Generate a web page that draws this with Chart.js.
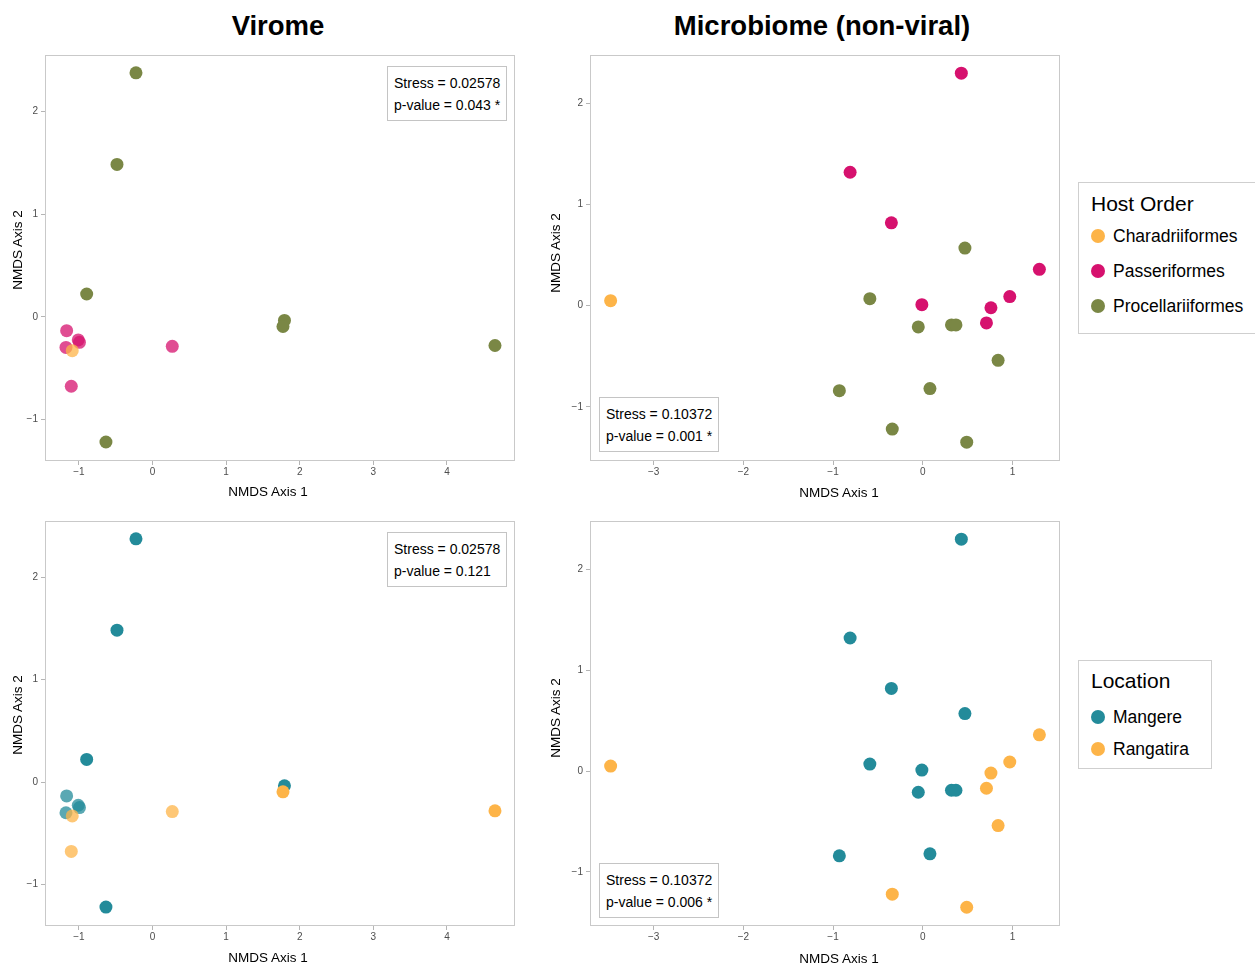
<!DOCTYPE html>
<html>
<head>
<meta charset="utf-8">
<script src="https://cdn.jsdelivr.net/npm/chart.js"></script>
<style>
  body { margin: 0; background: #fff; font-family: "Liberation Sans", Arial, sans-serif; }
  #page { position: relative; width: 1255px; height: 966px; overflow: hidden; }
  canvas { position: absolute; }
  .title { position: absolute; top: 10px; font-weight: bold; font-size: 27.5px; color: #000; transform: translateX(-50%); white-space: nowrap; }
  .xlab { position: absolute; font-size: 13.5px; color: #000; transform: translateX(-50%); white-space: nowrap; }
  .ylab { position: absolute; font-size: 13.5px; color: #000; transform: translate(-50%, -50%) rotate(-90deg); white-space: nowrap; }
  .stats { position: absolute; border: 1px solid #c4c4c4; background: #fff; font-size: 14px; line-height: 22px; padding: 5px 6px 4px 6px; white-space: nowrap; color: #000; }
  .legend { position: absolute; border: 1px solid #cfcfcf; background: #fff; }
  .legend .lt { position: absolute; font-size: 21px; white-space: nowrap; }
  .legend .li { position: absolute; font-size: 17.5px; white-space: nowrap; }
  .legend .dot { position: absolute; width: 14px; height: 14px; border-radius: 50%; }
</style>
</head>
<body>
<div id="page"></div>
<script>
// NMDS coordinates
const viromeX = [-0.224, -0.482, -0.894, 1.793, 1.773, 4.653, -0.632, -1.166, -1.175, -1.008, -0.992, 0.269, -1.103, -1.090];
const viromeY = [2.376, 1.484, 0.222, -0.036, -0.095, -0.280, -1.220, -0.135, -0.299, -0.226, -0.249, -0.288, -0.677, -0.330];
const viromeHost = ['Procellariiformes', 'Procellariiformes', 'Procellariiformes', 'Procellariiformes', 'Procellariiformes',
  'Procellariiformes', 'Procellariiformes', 'Passeriformes', 'Passeriformes', 'Passeriformes', 'Passeriformes',
  'Passeriformes', 'Passeriformes', 'Charadriiformes'];
const viromeLocation = ['Mangere', 'Mangere', 'Mangere', 'Mangere', 'Rangatira', 'Rangatira', 'Mangere',
  'Mangere', 'Mangere', 'Mangere', 'Mangere', 'Rangatira', 'Rangatira', 'Rangatira'];

const microX = [0.43, -0.81, -0.35, -0.01, 1.30, 0.97, 0.76, 0.71, -3.48, 0.47, -0.59, -0.05, 0.32, 0.37, 0.84, -0.93, 0.08, -0.34, 0.49];
const microY = [2.30, 1.32, 0.82, 0.01, 0.36, 0.09, -0.02, -0.17, 0.05, 0.57, 0.07, -0.21, -0.19, -0.19, -0.54, -0.84, -0.82, -1.22, -1.35];
const microHost = ['Passeriformes', 'Passeriformes', 'Passeriformes', 'Passeriformes', 'Passeriformes', 'Passeriformes',
  'Passeriformes', 'Passeriformes', 'Charadriiformes', 'Procellariiformes', 'Procellariiformes', 'Procellariiformes',
  'Procellariiformes', 'Procellariiformes', 'Procellariiformes', 'Procellariiformes', 'Procellariiformes',
  'Procellariiformes', 'Procellariiformes'];
const microLocation = ['Mangere', 'Mangere', 'Mangere', 'Mangere', 'Rangatira', 'Rangatira', 'Rangatira', 'Rangatira',
  'Rangatira', 'Mangere', 'Mangere', 'Mangere', 'Mangere', 'Mangere', 'Rangatira', 'Mangere', 'Mangere',
  'Rangatira', 'Rangatira'];

// axis ticks
const viromeXTicks = [-1, 0, 1, 2, 3, 4];
const viromeYTicks = [-1, 0, 1, 2];
const microXTicks = [-3, -2, -1, 0, 1];
const microYTicks = [-1, 0, 1, 2];

// legend entries
const hostOrders = ['Charadriiformes', 'Passeriformes', 'Procellariiformes'];
const locations = ['Mangere', 'Rangatira'];

// stats text per panel
const viromeHostStats = ['Stress = 0.02578', 'p-value = 0.043 *'];
const viromeLocStats = ['Stress = 0.02578', 'p-value = 0.121'];
const microHostStats = ['Stress = 0.10372', 'p-value = 0.001 *'];
const microLocStats = ['Stress = 0.10372', 'p-value = 0.006 *'];

const colors = {
  Charadriiformes: [253, 180, 72],
  Passeriformes: [214, 17, 110],
  Procellariiformes: [122, 135, 69],
  Mangere: [35, 139, 154],
  Rangatira: [253, 180, 72]
};
const rgba = (c, a) => `rgba(${c[0]},${c[1]},${c[2]},${a})`;

const page = document.getElementById('page');

function addDiv(cls, style, html) {
  const d = document.createElement('div');
  d.className = cls;
  Object.assign(d.style, style);
  if (html !== undefined) d.innerHTML = html;
  page.appendChild(d);
  return d;
}

// full frame round the plot area
const framePlugin = {
  id: 'frame',
  beforeDatasetsDraw(chart) {
    const a = chart.chartArea, ctx = chart.ctx;
    ctx.save();
    ctx.strokeStyle = '#c9c9c9';
    ctx.lineWidth = 1;
    ctx.strokeRect(Math.round(a.left) + 0.5, Math.round(a.top) + 0.5,
      Math.round(a.right - a.left) - 1, Math.round(a.bottom - a.top) - 1);
    ctx.restore();
  }
};

const fmt = v => v < 0 ? '\u2212' + Math.abs(v) : String(v);

function axis(range, ticks, fitKey, fitVal, pad) {
  return {
    type: 'linear',
    min: range[0], max: range[1],
    afterBuildTicks: s => { s.ticks = ticks.map(v => ({ value: v })); },
    afterFit: s => { s[fitKey] = fitVal; },
    border: { display: false },
    grid: { drawOnChartArea: false, drawTicks: true, tickLength: 4, color: '#b5b5b5' },
    ticks: { callback: fmt, color: '#4d4d4d', font: { size: 10, family: 'Liberation Sans' }, padding: pad, maxRotation: 0, autoSkip: false }
  };
}

function panel(box, xs, ys, groups, alphaFn, xRange, yRange, xTicks, yTicks) {
  const cv = document.createElement('canvas');
  cv.width = box.w + 55;
  cv.height = box.h + 40;
  cv.style.left = (box.l - 45) + 'px';
  cv.style.top = (box.t - 10) + 'px';
  page.appendChild(cv);
  const pts = xs.map((x, i) => ({ x: x, y: ys[i] }));
  new Chart(cv.getContext('2d'), {
    type: 'scatter',
    data: {
      datasets: [{
        data: pts,
        backgroundColor: groups.map((g, i) => rgba(colors[g], alphaFn(i))),
        borderWidth: 0,
        pointRadius: 6.5,
        pointHoverRadius: 6.5
      }]
    },
    options: {
      responsive: false,
      animation: false,
      devicePixelRatio: 1,
      layout: { padding: { left: 0, top: 10, right: 10, bottom: 0 } },
      scales: {
        x: axis(xRange, xTicks, 'height', 30, 1),
        y: axis(yRange, yTicks, 'width', 45, 3)
      },
      plugins: { legend: { display: false }, tooltip: { enabled: false } }
    },
    plugins: [framePlugin]
  });
}

function stats(lines, l, t) {
  addDiv('stats', { left: l + 'px', top: t + 'px' }, lines.join('<br>'));
}

function legend(title, items, box, titleY, itemYs) {
  const lg = addDiv('legend', { left: box.l + 'px', top: box.t + 'px', width: box.w + 'px', height: box.h + 'px' });
  const t = document.createElement('div');
  t.className = 'lt';
  t.textContent = title;
  t.style.left = '12px';
  t.style.top = (titleY - 13) + 'px';
  lg.appendChild(t);
  items.forEach((name, i) => {
    const d = document.createElement('div');
    d.className = 'dot';
    d.style.background = rgba(colors[name], 1);
    d.style.left = '12px';
    d.style.top = (itemYs[i] - 7) + 'px';
    lg.appendChild(d);
    const s = document.createElement('div');
    s.className = 'li';
    s.textContent = name;
    s.style.left = '34px';
    s.style.top = (itemYs[i] - 10) + 'px';
    lg.appendChild(s);
  });
}

// panel titles
addDiv('title', { left: '278px' }, 'Virome');
addDiv('title', { left: '822px' }, 'Microbiome (non-viral)');

const viromeAlpha = i => viromeHost[i] === 'Procellariiformes' ? 1 : 0.75;
const solid = () => 1;

const vxr = [-1.46, 4.925], vyr = [-1.405, 2.55];
const mxr = [-3.71, 1.53], myr = [-1.536, 2.48];

panel({ l: 45, t: 55, w: 470, h: 406 }, viromeX, viromeY, viromeHost, viromeAlpha, vxr, vyr, viromeXTicks, viromeYTicks);
panel({ l: 590, t: 55, w: 470, h: 406 }, microX, microY, microHost, solid, mxr, myr, microXTicks, microYTicks);
panel({ l: 45, t: 521, w: 470, h: 405 }, viromeX, viromeY, viromeLocation, viromeAlpha, vxr, vyr, viromeXTicks, viromeYTicks);
panel({ l: 590, t: 521, w: 470, h: 405 }, microX, microY, microLocation, solid, mxr, myr, microXTicks, microYTicks);

// axis titles
[[268, 484], [839, 485], [268, 950], [839, 951]].forEach(p =>
  addDiv('xlab', { left: p[0] + 'px', top: p[1] + 'px' }, 'NMDS Axis 1'));
[[17, 250], [555, 253], [17, 715], [555, 718]].forEach(p =>
  addDiv('ylab', { left: p[0] + 'px', top: p[1] + 'px' }, 'NMDS Axis 2'));

// stats boxes
stats(viromeHostStats, 387, 66);
stats(microHostStats, 599, 397);
stats(viromeLocStats, 387, 532);
stats(microLocStats, 599, 863);

// legends
legend('Host Order', hostOrders, { l: 1078, t: 182, w: 190, h: 150 }, 22, [53, 88, 123]);
legend('Location', locations, { l: 1078, t: 660, w: 132, h: 107 }, 21, [56, 88]);
</script>
</body>
</html>
